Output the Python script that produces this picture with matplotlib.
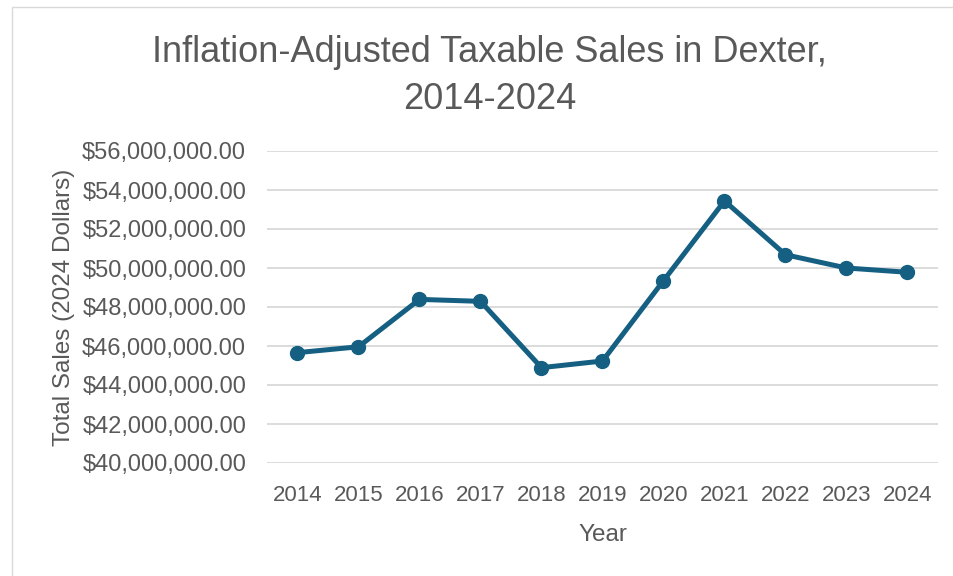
import matplotlib.pyplot as plt
from matplotlib.patches import Rectangle
from matplotlib.ticker import FuncFormatter

# Data
years = ["2014", "2015", "2016", "2017", "2018", "2019", "2020", "2021", "2022", "2023", "2024"]
sales = [45.66e6, 45.96e6, 48.39e6, 48.29e6, 44.89e6, 45.23e6, 49.35e6, 53.44e6, 50.68e6, 50.00e6, 49.78e6]
y_ticks = [40e6, 42e6, 44e6, 46e6, 48e6, 50e6, 52e6, 54e6, 56e6]

text_color = "#595959"
line_color = "#156082"
plt.rcParams["font.family"] = ["Liberation Sans", "DejaVu Sans"]

W, H = 954, 576
figure = plt.figure(figsize=(W / 100, H / 100), dpi=100)

# Chart area border
figure.patches.append(Rectangle((12 / W, -0.1), 1.2, (H - 7) / H + 0.1,
                                transform=figure.transFigure, fill=False,
                                edgecolor="#D9D9D9", linewidth=1))

# Plot area in pixels
left, right, top, bottom = 267, 938, 151, 463
axis = figure.add_axes([left / W, 1 - bottom / H, (right - left) / W, (bottom - top) / H])

x = list(range(len(years)))
axis.plot(x, sales, color=line_color, linewidth=3.6, marker="o", markersize=10,
          solid_joinstyle="round", zorder=3)

axis.set_xlim(-0.5, len(years) - 0.5)
axis.set_ylim(40e6, 56e6)
axis.set_xticks(x)
axis.set_xticklabels(years)
axis.set_yticks(y_ticks)
axis.yaxis.set_major_formatter(FuncFormatter(lambda v, p: "${:,.2f}".format(v)))

for spline in ("top", "bottom", "left", "right"):
    axis.spines[spline].set_visible(False)

axis.grid(axis="y", color="#D9D9D9", linewidth=1.3)
axis.set_axisbelow(True)
axis.tick_params(length=0, colors=text_color)
axis.tick_params(axis="x", pad=16, labelsize=16)
axis.tick_params(axis="y", pad=15, labelsize=17)

axis.set_xlabel("Year", fontsize=17.5, color=text_color, labelpad=12.5)
axis.set_ylabel("Total Sales (2024 Dollars)", fontsize=17.5, color=text_color, labelpad=5)

figure.text(489.5 / W, 1 - 76 / H,
            "Inflation-Adjusted Taxable Sales in Dexter,\n2014-2024",
            ha="center", va="center", fontsize=26,
            color=text_color, linespacing=1.42)

plt.savefig("out.png", dpi=100)
